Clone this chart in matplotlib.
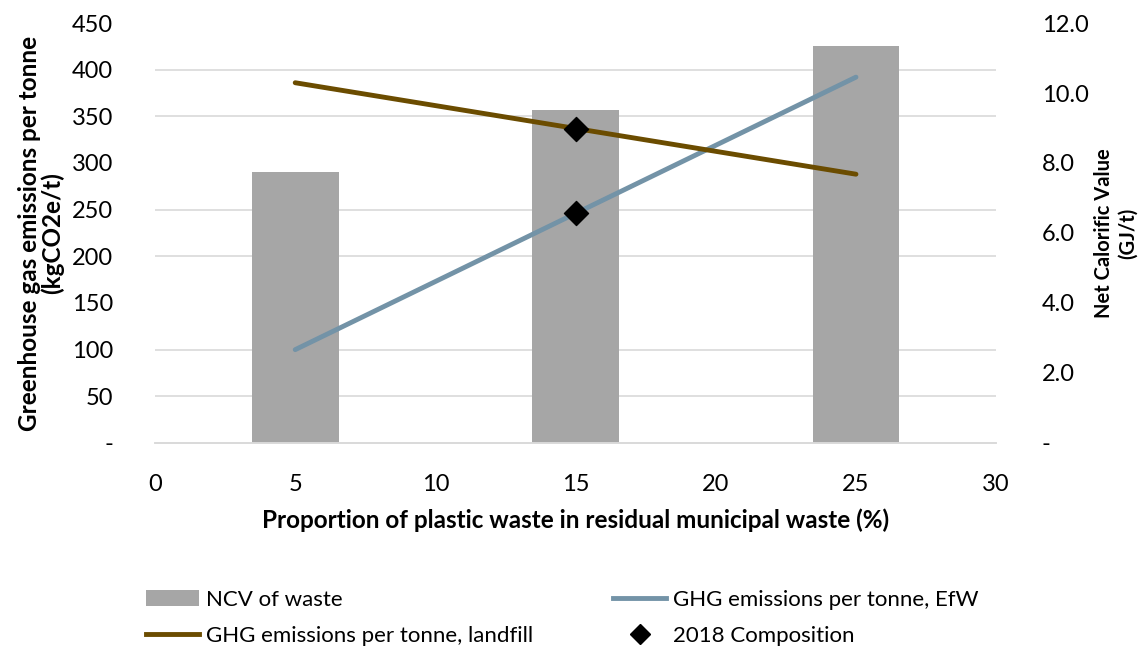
import numpy as np
import matplotlib.pyplot as plt
from matplotlib.lines import Line2D
from matplotlib.patches import Patch
from matplotlib.ticker import FuncFormatter

# Data
plastic_pct = [5, 15, 25]
ncv_gj = [7.74, 9.52, 11.34]            # right axis, GJ/t
ghg_efw = [100, 246, 392]               # left axis, kgCO2e/t
ghg_landfill = [386, 337, 288]
comp_2018_x = [15, 15]
comp_2018_y = [336.5, 246.5]

plt.rcParams['font.family'] = ['Lato', 'DejaVu Sans']

fig = plt.figure(figsize=(11.45, 6.5), dpi=100)
ax2 = fig.add_subplot(111)          # bars + grid (right axis)
ax = ax2.twinx()                    # lines (left axis)
ax.yaxis.tick_left()
ax.yaxis.set_label_position('left')
ax2.yaxis.tick_right()
ax2.yaxis.set_label_position('right')
fig.subplots_adjust(left=0.1354, right=0.870, top=0.9646, bottom=0.3185)

# bars on the NCV axis
ax2.bar(plastic_pct, ncv_gj, width=3.1, color='#a6a6a6', zorder=2)
ax2.set_ylim(0, 12)
ax2.set_yticks(np.arange(0, 12.1, 2))
ax2.yaxis.set_major_formatter(FuncFormatter(lambda v, p: '-' if v == 0 else f'{v:.1f}'))
ax2.set_yticks(np.linspace(0, 12, 10), minor=True)
ax2.grid(which='minor', axis='y', color='#d9d9d9', linewidth=1.2, zorder=0)
ax2.tick_params(which='both', length=0)
ax2.tick_params(axis='y', labelsize=17, pad=33)
ax2.tick_params(axis='x', labelsize=17, pad=22)
ax2.set_xlim(0, 30)
ax2.set_xticks(range(0, 31, 5))
ax2.set_xlabel('Proportion of plastic waste in residual municipal waste (%)',
               fontsize=17.5, fontweight='bold', labelpad=10)
ax2.set_ylabel('Net Calorific Value\n(GJ/t)', fontsize=14.5, fontweight='bold',
               labelpad=4, linespacing=1.2)

# lines on the GHG axis
ax.plot(plastic_pct, ghg_efw, color='#7393a7', linewidth=3.5, solid_capstyle='round')
ax.plot(plastic_pct, ghg_landfill, color='#6b4c00', linewidth=3.5, solid_capstyle='round')
ax.scatter(comp_2018_x, comp_2018_y, marker='D', s=150, color='black', zorder=5)
ax.set_ylim(0, 450)
ax.set_yticks(range(0, 451, 50))
ax.yaxis.set_major_formatter(FuncFormatter(lambda v, p: '-' if v == 0 else f'{v:.0f}'))
ax.tick_params(length=0, labelsize=17, pad=30)
ax.set_ylabel('Greenhouse gas emissions per tonne\n(kgCO2e/t)', fontsize=17.5,
              fontweight='bold', labelpad=6, linespacing=0.95)

for a in (ax, ax2):
    for s in ['top', 'left', 'right']:
        a.spines[s].set_visible(False)
    a.spines['bottom'].set_color('#d9d9d9')
    a.spines['bottom'].set_linewidth(1.2)

handles = [
    Patch(facecolor='#a6a6a6', edgecolor='none'),
    Line2D([], [], color='#6b4c00', linewidth=3.5),
    Line2D([], [], color='#7393a7', linewidth=3.5),
    Line2D([], [], marker='D', color='black', linestyle='none', markersize=10),
]
labels = ['NCV of waste', 'GHG emissions per tonne, landfill',
          'GHG emissions per tonne, EfW', '2018 Composition']
fig.legend(handles, labels, ncol=2, frameon=False, fontsize=16,
           loc='lower left', bbox_to_anchor=(0.11, -0.025),
           handlelength=2.4, handletextpad=0.3, columnspacing=3.6,
           labelspacing=0.75)

fig.savefig('out.png', dpi=100)
